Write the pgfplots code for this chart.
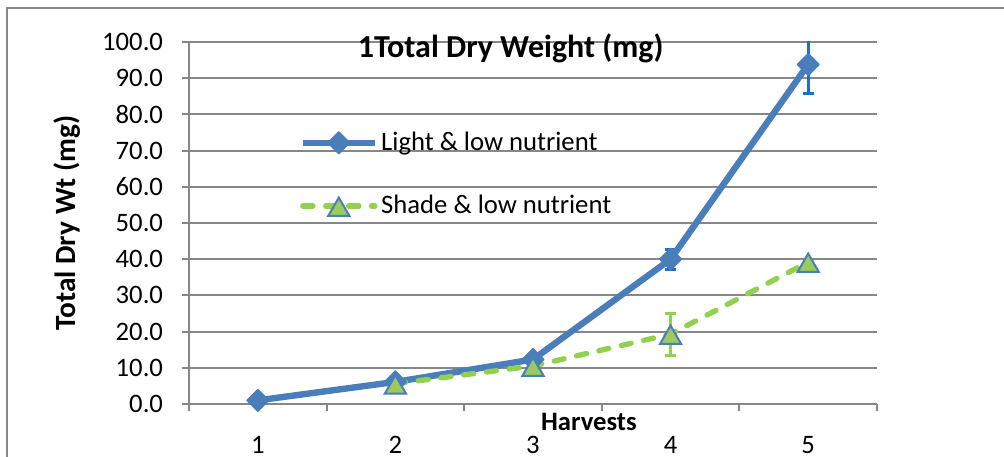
\documentclass[border=0pt]{standalone}
\usepackage{pgfplots}
\pgfplotsset{compat=1.18}
\usepackage{fontspec}
\setmainfont{Carlito}
\definecolor{gridgray}{HTML}{878787}
\definecolor{lightblue}{HTML}{4A7EBB}
\definecolor{errblue}{HTML}{1F6FC5}
\definecolor{shadegreen}{HTML}{92D050}
\definecolor{trifill}{HTML}{9BCB5B}
\begin{document}
\begin{tikzpicture}
\path[use as bounding box] (-70.875pt,-19.875pt) rectangle (305.625pt,151.5pt);
\draw[gridgray, line width=0.75pt] (-68.25pt,-40pt) -- (-68.25pt,148.5pt) -- (340pt,148.5pt);
\begin{axis}[
  at={(0pt,0pt)}, anchor=south west,
  scale only axis, width=258pt, height=135.75pt,
  xmin=0.5, xmax=5.5, ymin=0, ymax=100,
  axis x line*=bottom, axis y line*=left,
  axis line style={gridgray, line width=0.75pt, -},
  tick align=outside, major tick length=2.8pt,
  tick style={gridgray, line width=0.75pt},
  xtick={0.5,1.5,2.5,3.5,4.5,5.5},
  xticklabels={1,2,3,4,5,{}},
  xticklabel style={anchor=base, xshift=25.8pt, yshift=-15.6pt, inner sep=0pt},
  ytick={0,10,...,100},
  ymajorgrids, grid style={gridgray, line width=0.75pt},
  yticklabel style={/pgf/number format/fixed, /pgf/number format/fixed zerofill, /pgf/number format/precision=1, /pgf/number format/assume math mode=true,
    anchor=east, inner sep=0pt, xshift=-6.75pt},
  ticklabel style={font=\fontsize{10pt}{12pt}\selectfont},
  xlabel={\textbf{Harvests}},
  xlabel style={at={(rel axis cs:0.5814,0)}, anchor=base, yshift=-10.1pt, inner sep=0pt, font=\fontsize{10pt}{12pt}\selectfont},
  ylabel={\textbf{Total Dry Wt (mg)}},
  ylabel style={at={(rel axis cs:-0.1655,0.5)}, anchor=base, inner sep=0pt, font=\fontsize{11pt}{13pt}\selectfont},
  legend style={draw=none, fill=none, at={(rel axis cs:0.160,0.763)}, anchor=north west,
    inner sep=0pt, row sep=12.9pt, nodes={inner sep=1.2pt}, font=\fontsize{10pt}{12pt}\selectfont},
  legend cell align=left,
  legend image code/.code={\draw[mark repeat=2, mark phase=2] plot coordinates {(0pt,0pt) (13.5pt,0pt) (27pt,0pt)};},
]
% error bars (drawn first, behind the series)
\addplot[draw=none, mark=none, forget plot,
  error bars/.cd, y dir=both, y explicit,
  error bar style={errblue, line width=1.1pt, solid},
  error mark options={rotate=90, errblue, mark size=2pt, line width=1.1pt}]
  coordinates {(4,40.0) +- (0,2.8) (5,93.8) +- (0,8.0)};
\addplot[draw=none, mark=none, forget plot,
  error bars/.cd, y dir=both, y explicit,
  error bar style={shadegreen, line width=1.1pt, solid},
  error mark options={rotate=90, shadegreen, mark size=2pt, line width=1.1pt}]
  coordinates {(4,19.3) +- (0,5.8)};
% Light & low nutrient
\addplot[lightblue, line width=2.4pt, line join=round,
  mark=square*, mark size=2.9pt,
  mark options={rotate=45, solid, fill=lightblue, draw=lightblue, line width=0.5pt}]
  coordinates {(1,1.0) (2,6.1) (3,12.3) (4,40.0) (5,93.8)};
\addlegendentry{Light \& low nutrient}
% Shade & low nutrient
\addplot[shadegreen, line width=2pt, line cap=round, dash pattern=on 3.8pt off 4.8pt,
  mark=triangle*, mark size=4.6pt,
  mark options={solid, fill=trifill, draw=lightblue, line width=0.75pt, yshift=-1.4pt}]
  coordinates {(2,5.6) (3,10.5) (4,19.3) (5,39.2)};
\addlegendentry{Shade \& low nutrient}
\end{axis}
\node[anchor=base, inner sep=0pt, font=\fontsize{12pt}{14pt}\selectfont\bfseries]
  at (120.64pt,129.75pt) {1Total Dry Weight (mg)};
\end{tikzpicture}
\end{document}
